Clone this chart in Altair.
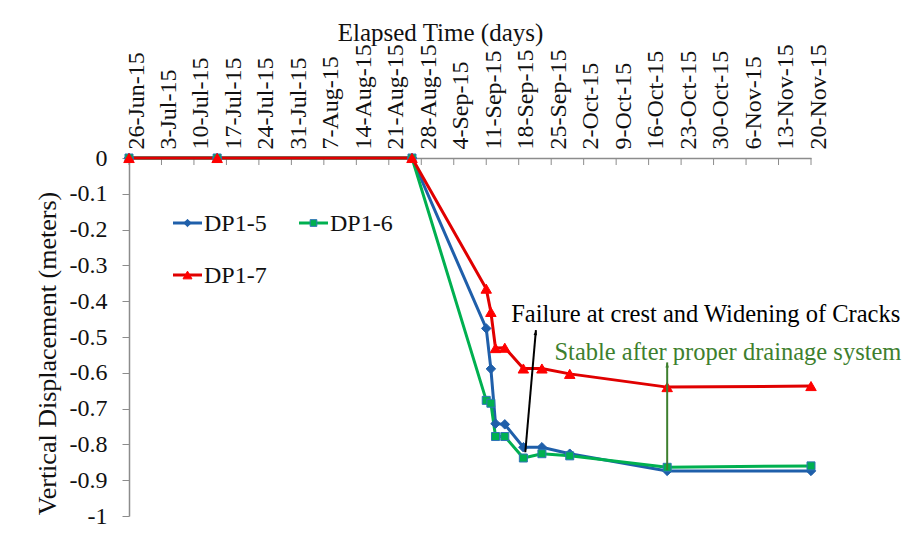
import altair as alt
import pandas as pd

# ---------------- data ----------------
dates = ["2015-06-26", "2015-07-15", "2015-08-26", "2015-09-11", "2015-09-12", "2015-09-13",
         "2015-09-15", "2015-09-19", "2015-09-23", "2015-09-29", "2015-10-20", "2015-11-20"]
dp1_5 = [0, 0, 0, -0.476, -0.589, -0.742, -0.744, -0.808, -0.808, -0.826, -0.874, -0.874]
dp1_6 = [0, 0, 0, -0.677, -0.685, -0.778, -0.778, -0.838, -0.826, -0.832, -0.864, -0.860]
dp1_7 = [0, 0, 0, -0.365, -0.430, -0.531, -0.530, -0.588, -0.588, -0.603, -0.640, -0.637]
series_names = ["DP1-5", "DP1-6", "DP1-7"]

tick_dates = ["2015-06-26", "2015-07-03", "2015-07-10", "2015-07-17", "2015-07-24", "2015-07-31",
              "2015-08-07", "2015-08-14", "2015-08-21", "2015-08-28", "2015-09-04", "2015-09-11",
              "2015-09-18", "2015-09-25", "2015-10-02", "2015-10-09", "2015-10-16", "2015-10-23",
              "2015-10-30", "2015-11-06", "2015-11-13", "2015-11-20"]
y_ticks = [0, -0.1, -0.2, -0.3, -0.4, -0.5, -0.6, -0.7, -0.8, -0.9, -1]

# annotations
ann_text = ["Failure at crest and Widening of Cracks", "Stable after proper drainage system"]
ann_text_date = ["2015-09-16T09:00", "2015-09-25T17:00"]
ann_text_value = [-0.459, -0.565]
arrow_from_date = ["2015-09-19T10:00", "2015-10-20"]
arrow_from_value = [-0.822, -0.872]
arrow_to_date = ["2015-09-21T17:00", "2015-10-20"]
arrow_to_value = [-0.481, -0.571]

# ---------------- styling ----------------
FONT = "Liberation Serif"
BLUE = "#1F5FAA"
GREEN = "#00B050"
RED_LINE = "#E00000"
RED_MARK = "#FF0000"
SQ_EDGE = "#2E75B6"
ANN_GREEN = "#3E7F2E"
GRAY = "#8c8c8c"
TXT = "#111111"

MARKS = {
    "DP1-5": dict(shape="diamond", size=90, fill=BLUE, stroke=BLUE, line=BLUE),
    "DP1-6": dict(shape="square", size=64, fill=GREEN, stroke=SQ_EDGE, line=GREEN),
    "DP1-7": dict(shape="triangle-up", size=110, fill=RED_MARK, stroke=RED_MARK, line=RED_LINE),
}


def ms(s):
    return int(pd.Timestamp(s, tz="UTC").value // 10**6)


rows = []
for name, vals in zip(series_names, [dp1_5, dp1_6, dp1_7]):
    for d, v in zip(dates, vals):
        rows.append({"date": ms(d), "value": v, "series": name})
df = pd.DataFrame(rows)

ticks_df = pd.DataFrame({"date": [ms(d) for d in tick_dates]})
text_df = pd.DataFrame({"date": [ms(d) for d in ann_text_date], "value": ann_text_value,
                        "label": ann_text})
arrow_df = pd.DataFrame({"date": [ms(d) for d in arrow_from_date], "value": arrow_from_value,
                         "date2": [ms(d) for d in arrow_to_date], "value2": arrow_to_value})
head_df = pd.DataFrame({"date": [ms(d) for d in arrow_to_date], "value": arrow_to_value})

W, H = 682, 358

xscale = alt.Scale(type="utc", domain=[ms(tick_dates[0]), ms(tick_dates[-1])])
yscale = alt.Scale(domain=[-1, 0], nice=False, zero=False)

xaxis = alt.Axis(
    orient="top", values=[ms(d) for d in tick_dates],
    labelExpr="utcFormat(datum.value, '%-d-%b-%y')",
    labelAngle=270, labelAlign="left", labelBaseline="middle", labelOffset=7, labelPadding=9,
    labelOverlap=False, labelFlush=False, labelBound=False,
    labelFont=FONT, labelFontSize=24, labelColor=TXT,
    ticks=False, grid=False, domainColor=GRAY, domainWidth=1.5,
    title="Elapsed Time (days)", titleFont=FONT, titleFontSize=25, titleFontWeight="normal",
    titleColor=TXT, titleX=311, titleY=-118, titleAlign="center", titleBaseline="alphabetic",
)
yaxis = alt.Axis(
    orient="left", values=y_ticks,
    labelExpr="replace(format(datum.value, '~g'), '\u2212', '-')",
    labelFont=FONT, labelFontSize=24, labelColor=TXT, labelPadding=15,
    tickSize=7, tickColor=GRAY, domainColor=GRAY, domainWidth=1.5, grid=False,
    title="Vertical Displacement (meters)", titleFont=FONT, titleFontSize=26,
    titleFontWeight="normal", titleColor=TXT, titleX=-82, titleY=195, titleAngle=270,
    titleAlign="center", titleBaseline="middle",
)


def X(field="date"):
    return alt.X(f"{field}:T", scale=xscale, axis=xaxis)


def Y(field="value"):
    return alt.Y(f"{field}:Q", scale=yscale, axis=yaxis)


lines = alt.Chart(df).mark_line(strokeWidth=3).encode(
    x=X(), y=Y(),
    color=alt.Color("series:N", scale=alt.Scale(domain=series_names,
                                                range=[MARKS[s]["line"] for s in series_names]),
                    legend=None),
)

point_layers = []
for s in series_names:
    m = MARKS[s]
    point_layers.append(
        alt.Chart(df).transform_filter(alt.datum.series == s).mark_point(
            shape=m["shape"], size=m["size"], filled=True, fill=m["fill"], stroke=m["stroke"],
            strokeWidth=1, opacity=1
        ).encode(x=X(), y=Y())
    )

xticks = alt.Chart(ticks_df).mark_rule(color=GRAY, strokeWidth=1).encode(
    x=X(), y=alt.value(0), y2=alt.value(7)
)

HEAD = "M0,0L0.35,1L-0.35,1Z"
arrow_black = alt.Chart(arrow_df.iloc[[0]]).mark_rule(color="#000000", strokeWidth=2).encode(
    x=X(), y=Y(), x2="date2:T", y2="value2:Q"
)
arrow_green = alt.Chart(arrow_df.iloc[[1]]).mark_rule(color=ANN_GREEN, strokeWidth=2).encode(
    x=X(), y=Y(), x2="date2:T", y2="value2:Q"
)
head_black = alt.Chart(head_df.iloc[[0]]).mark_point(
    shape=HEAD, size=100, filled=True, color="#000000", opacity=1, angle=7
).encode(x=X(), y=Y())
head_green = alt.Chart(head_df.iloc[[1]]).mark_point(
    shape=HEAD, size=100, filled=True, color=ANN_GREEN, opacity=1, angle=0
).encode(x=X(), y=Y())

text_black = alt.Chart(text_df.iloc[[0]]).mark_text(
    align="left", baseline="alphabetic", font=FONT, fontSize=24.5, color="#000000"
).encode(x=X(), y=Y(), text="label:N")
text_green = alt.Chart(text_df.iloc[[1]]).mark_text(
    align="left", baseline="alphabetic", font=FONT, fontSize=24.5, color=ANN_GREEN
).encode(x=X(), y=Y(), text="label:N")

# ---------------- legend (drawn as small layers in the upper-left of the plot) ----------------
LEG_POS = {"DP1-5": (44, 65), "DP1-6": (170, 65), "DP1-7": (44, 117)}  # pixel layout
LEG_SIZE = {"DP1-5": 55, "DP1-6": 45, "DP1-7": 80}
legend_layers = []
for s in series_names:
    m = MARKS[s]
    lx, ly = LEG_POS[s]
    one = pd.DataFrame({"series": [s]})
    legend_layers.append(
        alt.Chart(one).mark_rule(color=m["line"], strokeWidth=3).encode(
            x=alt.value(lx), x2=alt.value(lx + 29), y=alt.value(ly))
    )
    legend_layers.append(
        alt.Chart(one).mark_point(shape=m["shape"], size=LEG_SIZE[s], filled=True, fill=m["fill"],
                                  stroke=m["stroke"], strokeWidth=1, opacity=1).encode(
            x=alt.value(lx + 14.5), y=alt.value(ly))
    )
    legend_layers.append(
        alt.Chart(one).mark_text(align="left", baseline="middle", font=FONT, fontSize=24,
                                 color=TXT, dy=1).encode(
            x=alt.value(lx + 31), y=alt.value(ly), text="series:N")
    )

chart = alt.layer(
    xticks, lines, *point_layers, arrow_black, arrow_green, head_black, head_green,
    text_black, text_green, *legend_layers
).properties(
    width=W, height=H,
    padding={"left": 121, "top": 150, "right": 96, "bottom": 17},
    autosize=alt.AutoSizeParams(type="none"),
    background="white",
).configure_view(stroke=None)

chart.save("out.html", embed_options={"renderer": "svg", "actions": False})
